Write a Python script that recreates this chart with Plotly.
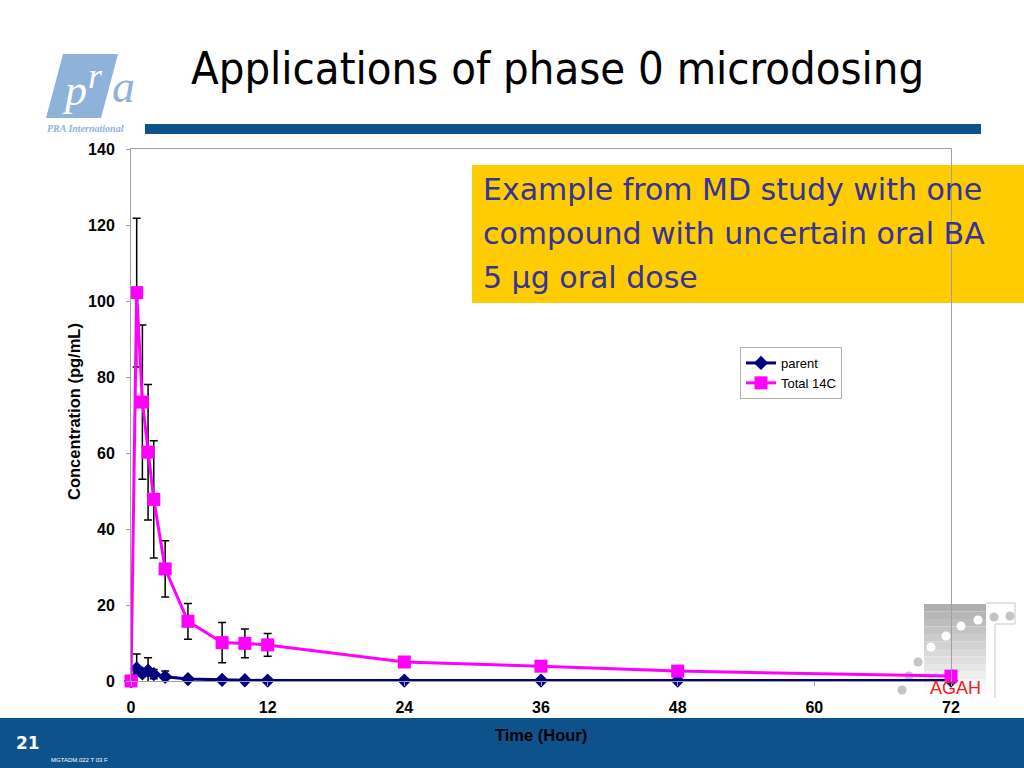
import plotly.graph_objects as go

# ---------------- data ----------------
time_h = [0, 0.5, 1, 1.5, 2, 3, 5, 8, 10, 12, 24, 36, 48, 72]
parent = [0, 3.3, 2.0, 2.7, 1.8, 1.1, 0.5, 0.3, 0.2, 0.1, 0.1, 0.1, 0.1, 0.1]
parent_err = [0, 3.8, 0.8, 3.4, 1.2, 1.5, 0, 0, 0, 0, 0, 0, 0, 0]
total14c = [0, 102.2, 73.4, 60.2, 47.8, 29.5, 15.7, 10.1, 9.9, 9.5, 5.0, 3.9, 2.6, 1.3]
total14c_err = [0, 19.6, 20.3, 17.8, 15.4, 7.4, 4.7, 5.3, 3.8, 3.0, 1.0, 0, 0, 0]
x_ticks = [0, 12, 24, 36, 48, 60, 72]
y_ticks = [0, 20, 40, 60, 80, 100, 120, 140]

title_text = "Applications of phase 0 microdosing"
box_lines = ["Example from MD study with one",
             "compound with uncertain oral BA",
             "5 \u00b5g oral dose"]

# ---------------- geometry helpers (pixel -> paper) ----------------
W, H = 1024, 768
L, R, T, B = 131, 951, 149, 681


def px(x):
    return (x - L) / (R - L)


def py(y):
    return (B - y) / (B - T)


NAVY = "#000080"
MAGENTA = "#FF00FF"
SLIDE_BLUE = "#0e528b"

fig = go.Figure()

fig.add_trace(go.Scatter(
    x=time_h, y=parent, name="parent", mode="lines+markers",
    line=dict(color=NAVY, width=3),
    marker=dict(symbol="diamond", size=11, color=NAVY),
    error_y=dict(type="data", array=parent_err, color="black", thickness=1.5, width=4),
    cliponaxis=False,
))
fig.add_trace(go.Scatter(
    x=time_h, y=total14c, name="Total 14C", mode="lines+markers",
    line=dict(color=MAGENTA, width=3),
    marker=dict(symbol="square", size=13, color=MAGENTA),
    error_y=dict(type="data", array=total14c_err, color="black", thickness=1.5, width=4),
    cliponaxis=False,
))

shapes = []
# header bar
shapes.append(dict(type="rect", xref="paper", yref="paper", layer="below",
                   x0=px(145), x1=px(981), y0=py(124), y1=py(134),
                   fillcolor=SLIDE_BLUE, line=dict(width=0)))
# footer band
shapes.append(dict(type="rect", xref="paper", yref="paper", layer="below",
                   x0=px(0), x1=px(1024), y0=py(718), y1=py(768),
                   fillcolor=SLIDE_BLUE, line=dict(width=0)))
# yellow box
shapes.append(dict(type="rect", xref="paper", yref="paper", layer="below",
                   x0=px(472), x1=px(1024), y0=py(165), y1=py(303),
                   fillcolor="#FFCC00", line=dict(width=0)))
# PRA logo parallelogram
shapes.append(dict(type="path", xref="paper", yref="paper", layer="below",
                   path="M {} {} L {} {} L {} {} L {} {} Z".format(
                       px(63), py(54), px(118), py(54), px(101), py(118), px(46), py(118)),
                   fillcolor="#8fb2da", line=dict(width=0)))
# AGAH logo: gradient block
n_strips = 12
for i in range(n_strips):
    g = int(176 + (252 - 176) * i / (n_strips - 1))
    shapes.append(dict(type="rect", xref="paper", yref="paper", layer="below",
                       x0=px(924), x1=px(986),
                       y0=py(604 + i * 7.5), y1=py(604 + (i + 1) * 7.5),
                       fillcolor="rgb({0},{0},{0})".format(g), line=dict(width=0)))
# AGAH outline
shapes.append(dict(type="path", xref="paper", yref="paper", layer="below",
                   path="M {} {} L {} {} L {} {} L {} {} L {} {}".format(
                       px(995), py(698), px(995), py(624), px(1015), py(624),
                       px(1015), py(603), px(986), py(603)),
                   line=dict(color="#c8c8c8", width=1)))
# AGAH dots
dots = [(902, 690, "#c4c4c4"), (909, 676, "#c4c4c4"), (918, 662, "#c4c4c4"),
        (931, 647, "white"), (946, 636, "white"), (961, 626, "white"),
        (978, 620, "white"), (994, 617, "#c4c4c4"), (1010, 616, "#c4c4c4")]
for (cx, cy, col) in dots:
    r = 4.5
    shapes.append(dict(type="circle", xref="paper", yref="paper", layer="below",
                       x0=px(cx - r), x1=px(cx + r), y0=py(cy - r), y1=py(cy + r),
                       fillcolor=col, line=dict(width=0)))

annotations = []
annotations.append(dict(text=title_text, xref="paper", yref="paper",
                        x=px(557), y=py(68), xanchor="center", yanchor="middle",
                        showarrow=False,
                        font=dict(family="DejaVu Sans Condensed", size=45, color="black")))
for i, line in enumerate(box_lines):
    annotations.append(dict(text=line, xref="paper", yref="paper",
                            x=px(481), y=py(189 + i * 44), xanchor="left", yanchor="middle",
                            showarrow=False,
                            font=dict(family="DejaVu Sans", size=30, color="#333399")))
# PRA logo letters
annotations.append(dict(text="<i>p</i>", xref="paper", yref="paper", x=px(74), y=py(90),
                        xanchor="center", yanchor="middle", showarrow=False,
                        font=dict(family="Liberation Serif", size=44, color="white")))
annotations.append(dict(text="<i>r</i>", xref="paper", yref="paper", x=px(95), y=py(76),
                        xanchor="center", yanchor="middle", showarrow=False,
                        font=dict(family="Liberation Serif", size=36, color="white")))
annotations.append(dict(text="<i>a</i>", xref="paper", yref="paper", x=px(123), y=py(87),
                        xanchor="center", yanchor="middle", showarrow=False,
                        font=dict(family="Liberation Serif", size=46, color="#8fb2da")))
annotations.append(dict(text="<i><b>PRA International</b></i>", xref="paper", yref="paper",
                        x=px(85), y=py(128), xanchor="center", yanchor="middle", showarrow=False,
                        font=dict(family="Liberation Serif", size=10, color="#8fb2da")))
# AGAH text
annotations.append(dict(text="AGAH", xref="paper", yref="paper", x=px(955), y=py(688),
                        xanchor="center", yanchor="middle", showarrow=False,
                        font=dict(family="Liberation Sans", size=18, color="#ee1c25")))
# footer texts
annotations.append(dict(text="<b>21</b>", xref="paper", yref="paper", x=px(28), y=py(743),
                        xanchor="center", yanchor="middle", showarrow=False,
                        font=dict(family="DejaVu Sans", size=17, color="white")))
annotations.append(dict(text="MGTADM.022 T 03 F", xref="paper", yref="paper", x=px(49), y=py(760),
                        xanchor="left", yanchor="middle", showarrow=False,
                        font=dict(family="Liberation Sans", size=6, color="white")))
# axis titles
annotations.append(dict(text="Time (Hour)", xref="paper", yref="paper", x=0.5, y=py(735),
                        xanchor="center", yanchor="middle", showarrow=False,
                        font=dict(family="Liberation Sans", size=16.5, color="black", weight="bold")))
annotations.append(dict(text="Concentration (pg/mL)", xref="paper", yref="paper", x=px(74), y=py(412),
                        xanchor="center", yanchor="middle", showarrow=False, textangle=-90,
                        font=dict(family="Liberation Sans", size=16.5, color="black", weight="bold")))

fig.update_layout(
    width=W, height=H,
    margin=dict(l=L, r=W - R, t=T, b=H - B, pad=0),
    paper_bgcolor="white", plot_bgcolor="rgba(0,0,0,0)",
    showlegend=True,
    legend=dict(x=px(740), y=py(347), xanchor="left", yanchor="top",
                bgcolor="white", bordercolor="#b0b0b0", borderwidth=1,
                font=dict(family="Liberation Sans", size=13, color="black"),
                itemwidth=30, tracegroupgap=0),
    shapes=shapes, annotations=annotations,
    xaxis=dict(range=[0, 72], tickvals=x_ticks, ticktext=[str(v) for v in x_ticks],
               showgrid=False, zeroline=False, showline=True, linecolor="#a0a0a0",
               linewidth=1, mirror=True, ticks="outside", ticklen=4, tickcolor="#a0a0a0",
               ticklabelstandoff=8,
               tickfont=dict(family="Liberation Sans", size=16, color="black", weight="bold")),
    yaxis=dict(range=[0, 140], tickvals=y_ticks, ticktext=[str(v) for v in y_ticks],
               showgrid=False, zeroline=False, showline=True, linecolor="#a0a0a0",
               linewidth=1, mirror=True, ticks="outside", ticklen=4, tickcolor="#a0a0a0",
               ticklabelstandoff=8,
               tickfont=dict(family="Liberation Sans", size=16, color="black", weight="bold")),
)

fig.write_html("out.html", config={"displayModeBar": False},
               post_script="document.body.style.margin='0';document.body.style.overflow='hidden';")
